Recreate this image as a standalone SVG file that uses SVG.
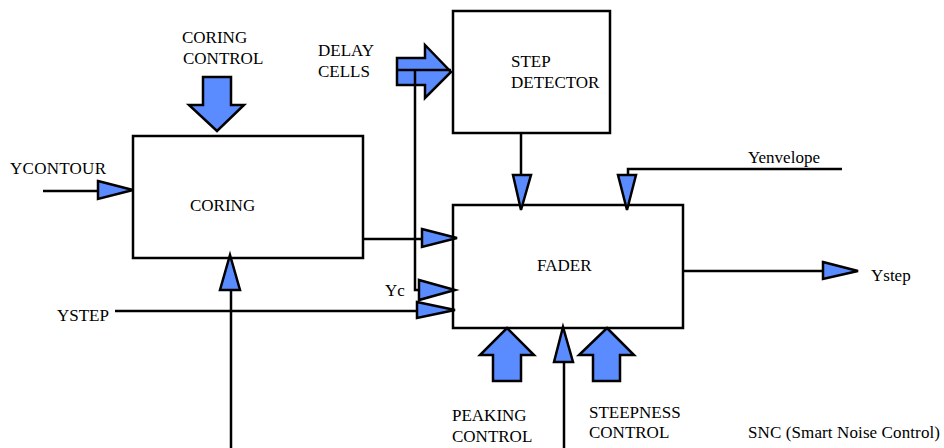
<svg xmlns="http://www.w3.org/2000/svg" width="944" height="448" viewBox="0 0 944 448">
<style>
text{font-family:"Liberation Serif","Times New Roman",serif;font-size:17px;fill:#000}
.box{fill:#fff;stroke:#000;stroke-width:2.5}
.ln{fill:none;stroke:#000;stroke-width:2.5}
.ah{fill:#5b8cff;stroke:#000;stroke-width:2.5;stroke-linejoin:miter}
</style>
<rect width="944" height="448" fill="#fff"/>
<g id="coring"><rect class="box" x="133" y="136" width="230" height="122"/><text x="190" y="211">CORING</text></g>
<g id="step-detector"><rect class="box" x="453" y="11" width="157" height="122"/><text x="511" y="67">STEP</text><text x="511" y="88">DETECTOR</text></g>
<g id="fader"><rect class="box" x="453" y="205" width="230" height="123"/><text x="537" y="271">FADER</text></g>
<g id="labels">
<text x="182" y="43">CORING</text><text x="183" y="64">CONTROL</text>
<text x="318" y="56">DELAY</text><text x="318" y="77">CELLS</text>
<text x="10" y="174" textLength="96" lengthAdjust="spacing">YCONTOUR</text>
<text x="385" y="296">Yc</text>
<text x="57" y="321">YSTEP</text>
<text x="871" y="281">Ystep</text>
<text x="748" y="163">Yenvelope</text>
<text x="452" y="421">PEAKING</text><text x="452" y="442">CONTROL</text>
<text x="589" y="418">STEEPNESS</text><text x="589" y="438">CONTROL</text>
<text x="748" y="438" textLength="192" lengthAdjust="spacing">SNC (Smart Noise Control)</text>
</g>
<g id="connectors">
<line class="ln" x1="43" y1="191" x2="100" y2="191"/>
<polygon class="ah" points="98,181 133,190 98,199"/>
<polygon class="ah" points="203,77 231,77 231,105 244,105 217,131 189,105 203,105"/>
<polygon class="ah" points="397,58 425,58 425,45 451,72 425,98 425,85 397,85"/>
<polyline class="ln" points="397,70 451,70"/>
<polyline class="ln" points="415,70 415,290 420,290"/>
<polygon class="ah" points="419,280 455,290 419,300"/>
<line class="ln" x1="363" y1="239" x2="424" y2="239"/>
<polygon class="ah" points="422,229 457,238 422,247"/>
<line class="ln" x1="115" y1="311" x2="420" y2="311"/>
<polygon class="ah" points="417,302 455,310 417,318"/>
<line class="ln" x1="521" y1="133" x2="521" y2="177"/>
<polygon class="ah" points="513,175 531,175 521,210"/>
<polyline class="ln" points="842,169 628,169 628,177"/>
<polygon class="ah" points="618,175 636,175 627,210"/>
<line class="ln" x1="683" y1="271" x2="825" y2="271"/>
<polygon class="ah" points="823,262 858,271 823,279"/>
<line class="ln" x1="231" y1="448" x2="231" y2="288"/>
<polygon class="ah" points="220,290 240,290 230,255"/>
<line class="ln" x1="564" y1="448" x2="564" y2="360"/>
<polygon class="ah" points="554,362 573,362 563,327"/>
<polygon class="ah" points="507,328 534,355 521,355 521,381 493,381 493,355 480,355"/>
<polygon class="ah" points="607,328 634,355 620,355 620,381 593,381 593,355 579,355"/>
</g>
</svg>
